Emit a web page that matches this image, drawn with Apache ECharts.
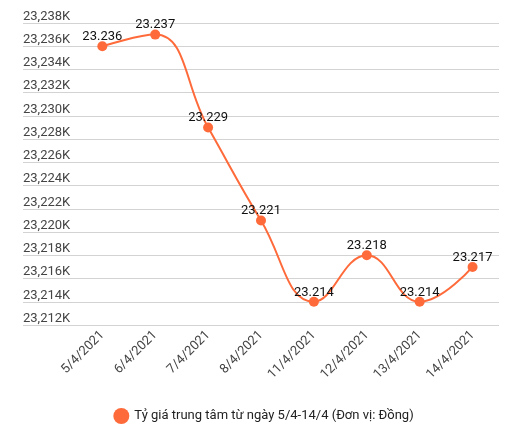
<!DOCTYPE html>
<html>
<head>
<meta charset="utf-8">
<style>
  html, body { margin: 0; padding: 0; background: #fff; }
  #chart { width: 527px; height: 438px; }
</style>
<script src="https://cdn.jsdelivr.net/npm/echarts@6/dist/echarts.min.js"></script>
</head>
<body>
<div id="chart"></div>
<script>
const categories = ["5/4/2021", "6/4/2021", "7/4/2021", "8/4/2021", "11/4/2021", "12/4/2021", "13/4/2021", "14/4/2021"];
const rates = [23236, 23237, 23229, 23221, 23214, 23218, 23214, 23217];
const seriesName = "Tỷ giá trung tâm từ ngày 5/4-14/4 (Đơn vị: Đồng)";

const lineColor = "#ff6a3a";
const font = "Roboto";

const chart = echarts.init(document.getElementById("chart"), null, { renderer: "canvas" });

const points = rates.map((v, i) => [i, v]);
const idx = categories.map((c, i) => i);

chart.setOption({
  animation: false,
  textStyle: { fontFamily: font },
  grid: { left: 23, right: 28, top: 23, bottom: 113 },
  legend: {
    bottom: 9,
    left: "center",
    icon: "circle",
    itemWidth: 16,
    itemHeight: 16,
    itemGap: 10,
    textStyle: { fontFamily: font, fontSize: 13, color: "#222" },
    data: [seriesName],
  },
  xAxis: {
    type: "value",
    min: -1.5,
    max: 7.5,
    splitLine: { show: false },
    axisLine: { show: false },
    axisTick: { show: false },
    axisLabel: {
      customValues: idx,
      rotate: 45,
      margin: 8,
      fontFamily: font,
      fontSize: 13,
      color: "#444",
      formatter: (v) => categories[Math.round(v)] || "",
    },
  },
  yAxis: {
    type: "value",
    min: 23212,
    max: 23238,
    interval: 2,
    axisLine: { show: false },
    axisTick: { show: false },
    splitLine: { lineStyle: { color: "#d3d3d3", width: 1 } },
    axisLabel: {
      inside: true,
      margin: 0,
      verticalAlign: "bottom",
      fontFamily: font,
      fontSize: 13,
      color: "#444",
      formatter: (v) => v.toLocaleString("en-US") + "K",
    },
  },
  series: [
    {
      name: seriesName,
      type: "line",
      data: points,
      smooth: 0.45,
      symbol: "circle",
      symbolSize: 10,
      lineStyle: { color: lineColor, width: 2 },
      itemStyle: { color: lineColor },
      label: {
        show: true,
        position: "top",
        distance: -2,
        fontFamily: font,
        fontSize: 13,
        color: "#111",
        formatter: (p) => p.value[1].toLocaleString("de-DE"),
      },
    },
  ],
});
</script>
</body>
</html>
